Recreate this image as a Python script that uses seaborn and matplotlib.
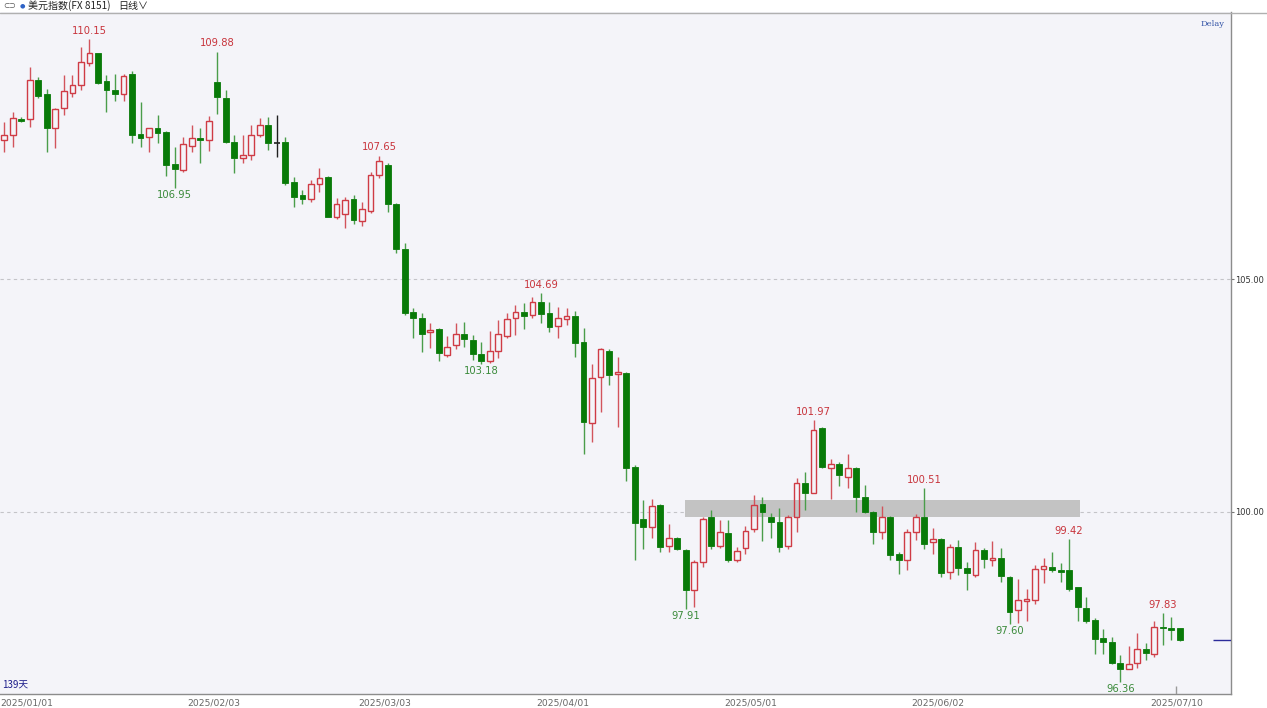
import numpy as np
import pandas as pd
import matplotlib
matplotlib.use("Agg")
import matplotlib.pyplot as plt
from matplotlib.patches import Rectangle
import seaborn as sns

# Daily OHLC of the US dollar index (FX 8151), 139 sessions
opens = [107.98, 108.09, 108.44, 108.43, 109.27, 108.97, 108.23, 108.66, 109.00, 109.16,
         109.63, 109.84, 109.25, 109.06, 108.98, 109.39, 108.11, 108.04, 108.23, 108.15,
         107.46, 107.34, 107.86, 108.03, 107.98, 109.22, 108.88, 107.95, 107.59, 107.66,
         108.09, 108.30, 107.92, 107.95, 107.09, 106.80, 106.71, 107.04, 107.18, 106.32,
         106.40, 106.71, 106.24, 106.47, 107.23, 107.45, 106.60, 105.64, 104.30, 104.16,
         103.86, 103.92, 103.37, 103.58, 103.83, 103.69, 103.38, 103.25, 103.45, 103.78,
         104.17, 104.29, 104.23, 104.50, 104.26, 104.00, 104.14, 104.21, 103.64, 101.92,
         102.90, 103.46, 102.96, 102.99, 100.97, 99.84, 99.67, 100.14, 99.26, 99.44,
         99.18, 98.33, 98.93, 99.89, 99.26, 99.54, 98.97, 99.22, 99.63, 100.17,
         99.89, 99.78, 99.27, 99.89, 100.63, 100.40, 101.81, 100.94, 101.04, 100.76,
         100.94, 100.33, 100.01, 99.58, 99.89, 99.09, 98.98, 99.58, 99.89, 99.35,
         99.42, 98.72, 99.24, 98.79, 98.65, 99.18, 98.98, 99.01, 98.61, 97.90,
         98.10, 98.11, 98.77, 98.83, 98.76, 98.76, 98.38, 97.95, 97.68, 97.29,
         97.22, 96.75, 96.62, 96.77, 97.07, 96.95, 97.53, 97.50, 97.50]
highs = [108.36, 108.58, 108.47, 109.56, 109.33, 109.07, 108.66, 109.38, 109.38, 109.98,
         110.15, 109.86, 109.38, 109.40, 109.40, 109.47, 108.79, 108.25, 108.53, 108.18,
         107.84, 108.04, 108.30, 108.23, 108.50, 109.88, 109.06, 108.08, 108.09, 108.30,
         108.45, 108.48, 108.52, 108.04, 107.18, 106.91, 107.12, 107.38, 107.20, 106.73,
         106.77, 106.80, 106.66, 107.29, 107.65, 107.48, 106.64, 105.77, 104.37, 104.26,
         104.06, 103.94, 103.78, 104.06, 104.08, 103.80, 103.65, 103.88, 104.12, 104.26,
         104.44, 104.48, 104.62, 104.69, 104.50, 104.39, 104.37, 104.32, 103.94, 103.17,
         103.51, 103.49, 103.32, 103.01, 101.01, 100.26, 100.27, 100.17, 99.74, 99.46,
         99.20, 98.98, 99.89, 100.04, 99.83, 99.83, 99.25, 99.70, 100.36, 100.32,
         99.97, 100.08, 99.94, 100.74, 100.86, 101.97, 101.83, 101.13, 101.07, 101.24,
         100.96, 100.58, 100.03, 100.13, 99.91, 99.15, 99.63, 99.96, 100.51, 99.65,
         99.44, 99.31, 99.40, 98.93, 99.35, 99.22, 99.38, 99.22, 98.63, 98.56,
         98.34, 98.86, 99.01, 99.15, 98.90, 99.42, 98.40, 98.18, 97.72, 97.49,
         97.31, 96.93, 97.12, 97.41, 97.18, 97.66, 97.83, 97.74, 97.52]
lows = [107.73, 107.84, 108.37, 108.26, 108.88, 107.73, 107.82, 108.53, 108.91, 109.06,
        109.58, 109.18, 108.59, 108.82, 108.82, 107.91, 107.84, 107.73, 107.91, 107.20,
        106.95, 107.30, 107.73, 107.48, 107.75, 108.55, 107.91, 107.27, 107.50, 107.55,
        108.05, 107.77, 107.61, 107.02, 106.55, 106.61, 106.66, 106.87, 106.32, 106.28,
        106.09, 106.18, 106.14, 106.42, 107.16, 106.44, 105.55, 104.23, 103.73, 103.44,
        103.53, 103.23, 103.33, 103.49, 103.55, 103.26, 103.18, 103.20, 103.30, 103.73,
        103.80, 103.92, 104.16, 104.06, 103.87, 103.73, 104.01, 103.32, 101.24, 101.51,
        102.15, 102.73, 101.82, 100.67, 98.98, 99.20, 99.44, 99.15, 99.15, 99.18,
        97.91, 97.97, 98.83, 99.20, 99.22, 98.92, 98.92, 99.10, 99.56, 99.38,
        99.44, 99.15, 99.20, 99.58, 100.04, 100.40, 100.94, 100.27, 100.56, 100.51,
        100.01, 99.97, 99.31, 99.41, 98.97, 98.67, 98.76, 99.40, 99.20, 99.10,
        98.61, 98.56, 98.65, 98.33, 98.61, 98.79, 98.84, 98.50, 97.60, 97.61,
        97.67, 98.03, 98.47, 98.72, 98.50, 98.31, 97.67, 97.61, 96.95, 96.95,
        96.74, 96.36, 96.62, 96.65, 96.82, 96.89, 97.15, 97.25, 97.24]
closes = [108.08, 108.45, 108.40, 109.27, 108.92, 108.23, 108.64, 109.03, 109.16, 109.65,
          109.85, 109.21, 109.06, 108.97, 109.36, 108.09, 108.02, 108.23, 108.13, 107.44,
          107.36, 107.89, 108.03, 107.98, 108.39, 108.90, 107.93, 107.59, 107.66, 108.08,
          108.30, 107.92, 107.92, 107.07, 106.77, 106.71, 107.04, 107.16, 106.34, 106.62,
          106.70, 106.27, 106.50, 107.23, 107.54, 106.60, 105.64, 104.28, 104.17, 103.81,
          103.91, 103.41, 103.55, 103.81, 103.71, 103.39, 103.24, 103.45, 103.81, 104.14,
          104.30, 104.21, 104.51, 104.25, 103.98, 104.17, 104.21, 103.62, 101.94, 102.87,
          103.49, 102.95, 103.01, 100.94, 99.77, 99.68, 100.13, 99.24, 99.44, 99.20,
          98.33, 98.93, 99.85, 99.26, 99.58, 98.97, 99.17, 99.60, 100.14, 100.01,
          99.78, 99.24, 99.89, 100.63, 100.41, 101.77, 100.96, 101.04, 100.79, 100.95,
          100.33, 99.99, 99.58, 99.90, 99.08, 98.98, 99.56, 99.89, 99.31, 99.42,
          98.70, 99.24, 98.79, 98.68, 99.18, 98.99, 99.01, 98.63, 97.86, 98.11,
          98.13, 98.77, 98.84, 98.76, 98.72, 98.34, 97.96, 97.65, 97.27, 97.22,
          96.75, 96.62, 96.73, 97.07, 96.97, 97.53, 97.51, 97.47, 97.25]

# Session index of each date label on the time axis
date_labels = ["2025/01/01", "2025/02/03", "2025/03/03", "2025/04/01",
               "2025/05/01", "2025/06/02", "2025/07/10"]
date_label_idx = [0, 22, 42, 63, 85, 107, 135]

# Annotated swing highs / lows (session index)
peak_idx = [10, 25, 44, 63, 95, 108, 125, 136]
trough_idx = [20, 56, 80, 118, 131]

# Resistance zone around the 100 level
zone_lo, zone_hi = 99.89, 100.26
zone_start, zone_end = 79.9, 126.3

price_ticks = [100.0, 105.0]

df = pd.DataFrame({"open": opens, "high": highs, "low": lows, "close": closes})
df["idx"] = np.arange(len(df))
df["top"] = df[["open", "close"]].max(axis=1)
df["bot"] = df[["open", "close"]].min(axis=1)

UP = "#cf3b45"
UP_WICK = "#d2545c"
DOWN = "#087a08"
DOWN_WICK = "#4a9d4a"
BG = "#f4f4f9"

sns.set_theme(style="white")
plt.rcParams["font.family"] = ["Noto Sans CJK SC", "DejaVu Sans"]

fig = plt.figure(figsize=(12.67, 7.08), dpi=100)
fig.patch.set_facecolor("#ffffff")
ax = fig.add_axes([0.0, 14 / 708, 1231 / 1267, 682 / 708])
ax.set_facecolor(BG)

ax.set_xlim(-0.47, 144.0)
ax.set_ylim(96.094, 110.73)

# dashed price grid
for p in price_ticks:
    ax.axhline(p, color="#c4c4c8", lw=0.8, ls=(0, (3, 3)), zorder=0)

# shaded zone
ax.add_patch(Rectangle((zone_start, zone_lo), zone_end - zone_start, zone_hi - zone_lo,
                       facecolor="#c3c3c3", edgecolor="none", zorder=1))

up = df[df.close > df.open]
down = df[df.close < df.open]
flat = df[df.close == df.open]

# wicks (split so hollow bodies stay open)
for sub, col in ((up, UP_WICK), (down, DOWN_WICK), (flat, "#202020")):
    ax.vlines(sub.idx, sub.top, sub.high, colors=col, lw=1.0, zorder=2)
    ax.vlines(sub.idx, sub.low, sub.bot, colors=col, lw=1.0, zorder=2)

min_h = 0.025
w = 0.68
ax.bar(up.idx, np.maximum(up.close - up.open, min_h), bottom=up.open, width=w,
       facecolor="none", edgecolor=UP, lw=1.0, zorder=3)
ax.bar(down.idx, np.maximum(down.open - down.close, min_h), bottom=down.close, width=w,
       facecolor=DOWN, edgecolor=DOWN, lw=0.6, zorder=3)
ax.hlines(flat.close, flat.idx - w / 2, flat.idx + w / 2, colors="#202020", lw=1.2, zorder=3)

# high / low annotations
for i in peak_idx:
    ax.annotate(f"{df.high[i]:.2f}", (i, df.high[i]), xytext=(0, 2.5),
                textcoords="offset points", ha="center", va="bottom",
                fontsize=7.2, color="#c8343c", family="DejaVu Sans")
for i in trough_idx:
    ax.annotate(f"{df.low[i]:.2f}", (i, df.low[i]), xytext=(0, -1.5),
                textcoords="offset points", ha="center", va="top",
                fontsize=7.2, color="#3a8a3a", family="DejaVu Sans")

# last price marker on the price scale
last = df.close.iloc[-1]
ax.hlines(last, 141.9, 144.0, colors="#2b2b9a", lw=1.0, zorder=4)
# current session marker
ax.vlines(137.5, 96.094, 96.27, colors="#9a9a9a", lw=1.0, zorder=4)

# price axis on the right
ax.yaxis.tick_right()
ax.set_yticks(price_ticks)
ax.set_yticklabels([f"{p:.2f}" for p in price_ticks], fontsize=6.0, color="#333333",
                   family="DejaVu Sans")
ax.tick_params(axis="y", length=2, width=0.8, color="#777777", pad=1)

# time axis
ax.set_xticks([i - 0.5 for i in date_label_idx])
ax.set_xticklabels(date_labels, fontsize=6.6, color="#666666", ha="left",
                   family="DejaVu Sans")
ax.tick_params(axis="x", length=0, pad=3)

for side in ("left", "top"):
    ax.spines[side].set_visible(False)
for side in ("right", "bottom"):
    ax.spines[side].set_color("#8c8c8c")
    ax.spines[side].set_linewidth(1.0)
ax.grid(False)

ax.text(0.002, 0.006, "139天", transform=ax.transAxes, fontsize=7, color="#1c1c8a",
        ha="left", va="bottom")
ax.text(0.995, 0.988, "Delay", transform=ax.transAxes, fontsize=6, color="#3656a8",
        ha="right", va="top", family="DejaVu Serif")

# header strip
fig.add_artist(plt.Line2D([0, 1], [1 - 12.5 / 708] * 2, color="#b0b0b0", lw=1.0))
fig.text(3 / 1267, 1 - 6 / 708, "⊂⊃", fontsize=5.5, color="#555555", va="center",
         family="DejaVu Sans")
fig.text(20 / 1267, 1 - 6 / 708, "●", fontsize=4.5, color="#2f63c6", va="center",
         family="DejaVu Sans")
fig.text(28 / 1267, 1 - 6 / 708, "美元指数(FX 8151)", fontsize=7.2, color="#222222",
         va="center")
fig.text(118 / 1267, 1 - 6 / 708, "日线∨", fontsize=7.2, color="#222222", va="center")

fig.savefig("out.png", dpi=100, facecolor=fig.get_facecolor())
